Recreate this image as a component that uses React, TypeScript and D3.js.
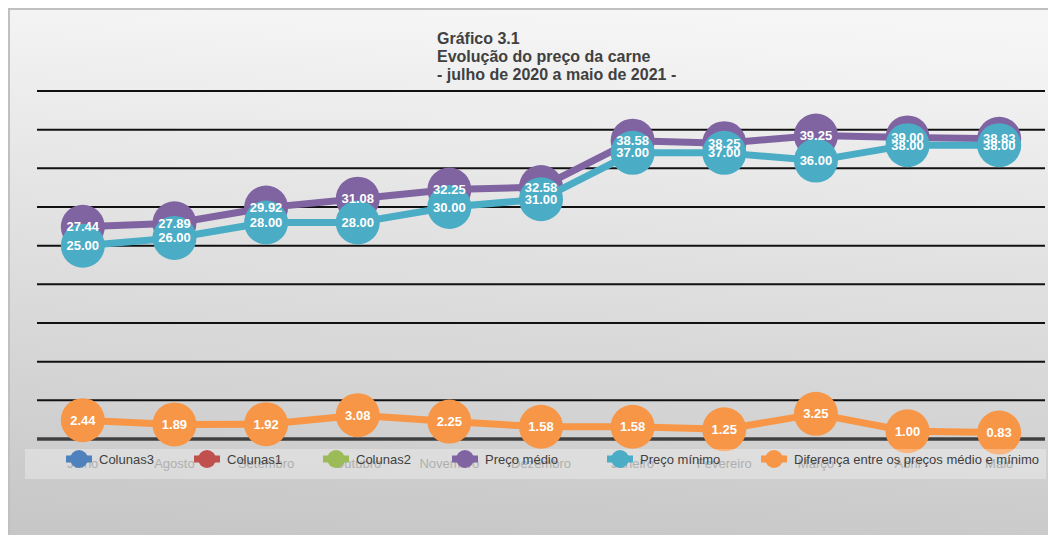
import React from "react";
import * as d3 from "d3";

const categories = ["Julho", "Agosto", "Setembro", "Outubro", "Novembro", "Dezembro", "Janeiro", "Fevereiro", "Março", "Abril", "Maio"];
const precoMedio = [27.44, 27.89, 29.92, 31.08, 32.25, 32.58, 38.58, 38.25, 39.25, 39.0, 38.83];
const precoMinimo = [25.0, 26.0, 28.0, 28.0, 30.0, 31.0, 37.0, 37.0, 36.0, 38.0, 38.0];
const diferenca = [2.44, 1.89, 1.92, 3.08, 2.25, 1.58, 1.58, 1.25, 3.25, 1.0, 0.83];
const yTicks = [0, 5, 10, 15, 20, 25, 30, 35, 40, 45];
const titleLines = ["Gráfico 3.1", "Evolução do preço da carne", "- julho de 2020 a maio de 2021 -"];
const legendNames = ["Colunas3", "Colunas1", "Colunas2", "Preço médio", "Preço mínimo", "Diferença entre os preços médio e mínimo"];
const legendColors = ["#4f81bd", "#c0504d", "#9bbb59", "#8064a2", "#4bacc6", "#f79646"];
const legendTextX = [91, 219, 348, 477, 632, 786];

const W = 1048;
const H = 527;
const FONT = "'Liberation Sans', Arial, sans-serif";

export default function App() {
  const x = d3.scaleBand<string>().domain(categories).range([29, 1037]);
  const y = d3.scaleLinear().domain([0, 45]).range([431, 83]);
  const cx = (i: number) => (x(categories[i]) as number) + x.bandwidth() / 2;
  const line = d3
    .line<number>()
    .x((_, i) => cx(i))
    .y((d) => y(d));

  const series = [
    { values: precoMedio, color: "#8064a2" },
    { values: precoMinimo, color: "#4bacc6" },
    { values: diferenca, color: "#f79646" },
  ];

  return (
    <svg width={W} height={H} style={{ display: "block", overflow: "hidden" }}>
      <defs>
        <linearGradient id="bg" x1="0.55" y1="0" x2="0.45" y2="1">
          <stop offset="0" stopColor="#f6f6f6" />
          <stop offset="1" stopColor="#c7c7c7" />
        </linearGradient>
      </defs>
      <rect x={1} y={1} width={W + 10} height={H + 10} fill="url(#bg)" stroke="#c0c0c0" strokeWidth={2} />
      {titleLines.map((t, i) => (
        <text key={t} x={429} y={36 + i * 18} fontFamily={FONT} fontWeight="bold" fontSize={16} fill="#404040">
          {t}
        </text>
      ))}
      {yTicks.slice(1).map((t) => (
        <line key={t} x1={29} x2={1037} y1={y(t)} y2={y(t)} stroke="#111" strokeWidth={2} />
      ))}
      <line x1={29} x2={1037} y1={y(0)} y2={y(0)} stroke="#404040" strokeWidth={3.5} />
      {series.map((s, si) => (
        <g key={si}>
          <path d={line(s.values) as string} fill="none" stroke={s.color} strokeWidth={7} strokeLinejoin="round" />
          {s.values.map((v, i) => (
            <circle key={i} cx={cx(i)} cy={y(v)} r={22} fill={s.color} />
          ))}
        </g>
      ))}
      {series.map((s, si) => (
        <g key={"l" + si}>
          {s.values.map((v, i) => (
            <text
              key={i}
              x={cx(i)}
              y={y(v)}
              dy="0.35em"
              textAnchor="middle"
              fontFamily={FONT}
              fontWeight="bold"
              fontSize={13}
              fill="#ffffff"
            >
              {v.toFixed(2)}
            </text>
          ))}
        </g>
      ))}
      {categories.map((c, i) => (
        <text key={c} x={cx(i)} y={455} dy="0.35em" textAnchor="middle" fontFamily={FONT} fontSize={13} fill="#8c8c8c">
          {c}
        </text>
      ))}
      <rect x={17} y={441} width={1021} height={30} fill="#ffffff" fillOpacity={0.3} />
      {legendNames.map((n, i) => (
        <g key={n}>
          <line x1={legendTextX[i] - 33} x2={legendTextX[i] - 7} y1={451} y2={451} stroke={legendColors[i]} strokeWidth={7} />
          <circle cx={legendTextX[i] - 20} cy={451} r={9} fill={legendColors[i]} />
          <text x={legendTextX[i]} y={452} dy="0.32em" fontFamily={FONT} fontSize={13} fill="#404040">
            {n}
          </text>
        </g>
      ))}
    </svg>
  );
}
